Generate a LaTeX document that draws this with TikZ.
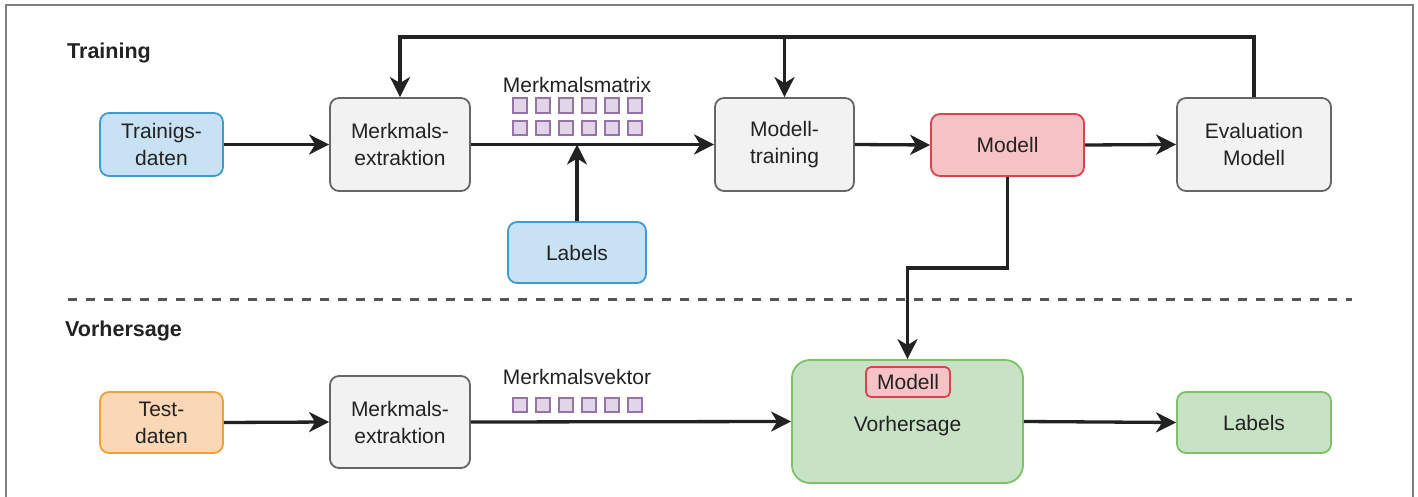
\documentclass[tikz,border=0pt]{standalone}
\usepackage{fontspec}
\setmainfont{Liberation Sans}
\usetikzlibrary{arrows.meta}
\definecolor{txt}{HTML}{222222}
\definecolor{grayfill}{HTML}{F2F2F2}
\definecolor{graydraw}{HTML}{666666}
\definecolor{bluefill}{HTML}{C9E2F3}
\definecolor{bluedraw}{HTML}{3F9ACD}
\definecolor{redfill}{HTML}{F5C2C6}
\definecolor{reddraw}{HTML}{D8434D}
\definecolor{orangefill}{HTML}{FAD7B5}
\definecolor{orangedraw}{HTML}{EFA03A}
\definecolor{greenfill}{HTML}{C8E2C5}
\definecolor{greendraw}{HTML}{7BC267}
\definecolor{sqfill}{HTML}{E1D5E7}
\definecolor{sqdraw}{HTML}{9673A6}
\definecolor{framec}{HTML}{808080}
\definecolor{dashc}{HTML}{555555}
\tikzset{
  box/.style={rounded corners=9pt, line width=1.8pt, align=center, text=txt,
    font=\fontsize{21}{27}\selectfont, inner sep=0pt},
  graybox/.style={box, fill=grayfill, draw=graydraw},
  bluebox/.style={box, fill=bluefill, draw=bluedraw},
  redbox/.style={box, fill=redfill, draw=reddraw},
  orangebox/.style={box, fill=orangefill, draw=orangedraw},
  greenbox/.style={box, fill=greenfill, draw=greendraw},
  conn/.style={line width=3.3pt, draw=txt, -{Stealth[length=20pt,width=20pt,inset=6pt]}},
  sq/.style={draw=sqdraw, fill=sqfill, line width=2pt, minimum size=14.5pt, inner sep=0pt},
  head/.style={font=\bfseries\fontsize{21.5}{25}\selectfont, text=txt, anchor=west, inner sep=0pt},
  plain/.style={font=\fontsize{21}{25}\selectfont, text=txt, inner sep=0pt},
}
\begin{document}
\begin{tikzpicture}[x=1pt,y=-1pt]
\clip (0,0) rectangle (1418,497);
\useasboundingbox (0,0) rectangle (1418,497);
\fill[white] (0,0) rectangle (1418,497);
\draw[framec, line width=1.8pt] (6,530) -- (6,5) -- (1413,5) -- (1413,530);

% headings
\node[head] (htrain) at (67,53) {Training};
\node[head] (hpred) at (65,331) {Vorhersage};

% training row
\node[bluebox, minimum width=123pt, minimum height=63pt] (td) at (161.5,144.5) {Trainigs-\\daten};
\node[graybox, minimum width=140pt, minimum height=93pt] (me1) at (400,144.5) {Merkmals-\\extraktion};
\node[graybox, minimum width=139pt, minimum height=93pt] (mt) at (784.5,144.5) {Modell-\\training};
\node[redbox, minimum width=153pt, minimum height=62pt] (mod) at (1007.5,145) {Modell};
\node[graybox, minimum width=154pt, minimum height=93pt] (ev) at (1254,144.5) {Evaluation\\Modell};
\node[bluebox, minimum width=138pt, minimum height=61pt] (lab1) at (577,252.5) {Labels};

\node[plain] (mmtext) at (577,85) {Merkmalsmatrix};
\foreach \c in {0,...,5}{
  \node[sq] (ma1-\c) at (520+23*\c,105.5) {};
  \node[sq] (ma2-\c) at (520+23*\c,128) {};
}

% dashed separator
\draw[dashc, line width=3pt, dash pattern=on 9pt off 9pt] (68,299) -- (1352,299);

% prediction row
\node[orangebox, minimum width=123pt, minimum height=61pt] (te) at (161.5,422.5) {Test-\\daten};
\node[graybox, minimum width=140pt, minimum height=92pt] (me2) at (400,422) {Merkmals-\\extraktion};
\node[greenbox, minimum width=231pt, minimum height=123pt, rounded corners=18pt] (vh) at (907.5,421.5) {};
\node[plain, anchor=base] (vhtext) at (907.5,431) {Vorhersage};
\node[redbox, minimum width=84pt, minimum height=30pt, rounded corners=5pt] (mod2) at (908,382) {Modell};
\node[greenbox, minimum width=154pt, minimum height=61pt] (lg) at (1254,422.5) {Labels};

\node[plain] (mvtext) at (577,377) {Merkmalsvektor};
\foreach \c in {0,...,5}{
  \node[sq] (mv-\c) at (520+23*\c,405) {};
}

% connectors training
\draw[conn] (td.east) -- (me1.west);
\draw[conn] (me1.east) -- (mt.west);
\coordinate (lj) at (lab1.north |- me1.east);
\draw[conn] (lab1.north) -- (lj);
\draw[conn] (mt.east) -- (mod.west);
\draw[conn] (mod.east) -- (ev.west);
\coordinate (fbR) at (ev.north |- 0,37);
\coordinate (fbL) at (me1.north |- 0,37);
\coordinate (fbM) at (mt.north |- 0,37);
\draw[conn] (ev.north) -- (fbR) -- (fbL) -- (me1.north);
\draw[conn] (fbM) -- (mt.north);
\coordinate (mdA) at (mod.south |- 0,268);
\coordinate (mdB) at (vh.north |- 0,268);
\draw[conn] (mod.south) -- (mdA) -- (mdB) -- (vh.north);

% connectors prediction
\draw[conn] (te.east) -- (me2.west);
\draw[conn] (me2.east) -- (vh.west);
\draw[conn] (vh.east) -- (lg.west);
\end{tikzpicture}
\end{document}
